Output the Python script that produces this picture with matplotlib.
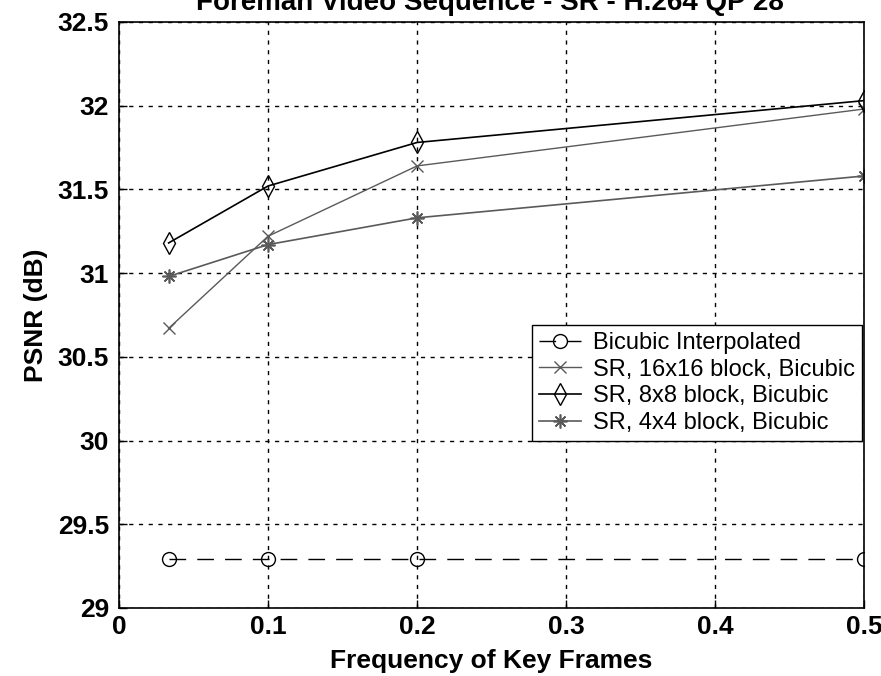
import matplotlib
matplotlib.use('Agg')
import matplotlib.pyplot as plt

# key frame frequency and PSNR per method
freq = [1 / 30, 0.1, 0.2, 0.5]
psnr_bicubic = [29.29, 29.29, 29.29, 29.29]
psnr_sr16 = [30.67, 31.22, 31.64, 31.98]
psnr_sr8 = [31.18, 31.52, 31.78, 32.03]
psnr_sr4 = [30.98, 31.17, 31.33, 31.58]

labels = ['Bicubic Interpolated', 'SR, 16x16 block, Bicubic',
          'SR, 8x8 block, Bicubic', 'SR, 4x4 block, Bicubic']

plt.rcParams['font.family'] = ['Liberation Sans', 'DejaVu Sans']

fig = plt.figure(figsize=(8.81, 6.76), dpi=100)
ax = fig.add_axes([0.135, 0.1006, 0.846, 0.867])

grey = '#5a5a5a'
ax.plot(freq, psnr_bicubic, color='black', lw=1.0, dashes=(12, 8),
        marker='o', ms=10, mfc='none', mew=1.0, label=labels[0])
ax.plot(freq, psnr_sr16, color=grey, lw=1.0, marker='x', ms=8,
        mew=1.0, label=labels[1])
ax.plot(freq, psnr_sr8, color='black', lw=1.2, marker='d', ms=11,
        mfc='none', mew=1.0, label=labels[2])
ax.plot(freq, psnr_sr4, color=grey, lw=1.2, marker=(8, 2, 0), ms=10,
        mew=1.2, label=labels[3])

ax.set_xlim(0, 0.5)
ax.set_ylim(29, 32.5)
ax.set_xticks([0, 0.1, 0.2, 0.3, 0.4, 0.5])
ax.set_xticklabels(['0', '0.1', '0.2', '0.3', '0.4', '0.5'])
ax.set_yticks([29, 29.5, 30, 30.5, 31, 31.5, 32, 32.5])
ax.set_yticklabels(['29', '29.5', '30', '30.5', '31', '31.5', '32', '32.5'])
ax.grid(True, color='black', lw=1.0, dashes=(3, 4))
ax.tick_params(direction='in', length=6, width=1, labelsize=19)
ax.tick_params(axis='y', pad=7)
ax.tick_params(axis='x', pad=5)
for t in ax.get_xticklabels() + ax.get_yticklabels():
    t.set_fontweight('bold')
for s in ax.spines.values():
    s.set_linewidth(1.2)

ax.set_xlabel('Frequency of Key Frames', fontsize=19, fontweight='bold',
              labelpad=7)
ax.set_ylabel('PSNR (dB)', fontsize=19, fontweight='bold', labelpad=7)

fig.text(0.556, 1 - 10 / 676, 'Foreman Video Sequence - SR - H.264 QP 28',
         ha='center', va='baseline', fontsize=20, fontweight='bold')

leg = ax.legend(loc='upper right', bbox_to_anchor=(0.997, 0.483),
                fontsize=17, fancybox=False, framealpha=1,
                edgecolor='black', handlelength=1.8, handletextpad=0.5,
                borderaxespad=0, labelspacing=0.2, borderpad=0.3)
leg.get_frame().set_linewidth(1.0)

fig.savefig('out.png', dpi=100)
